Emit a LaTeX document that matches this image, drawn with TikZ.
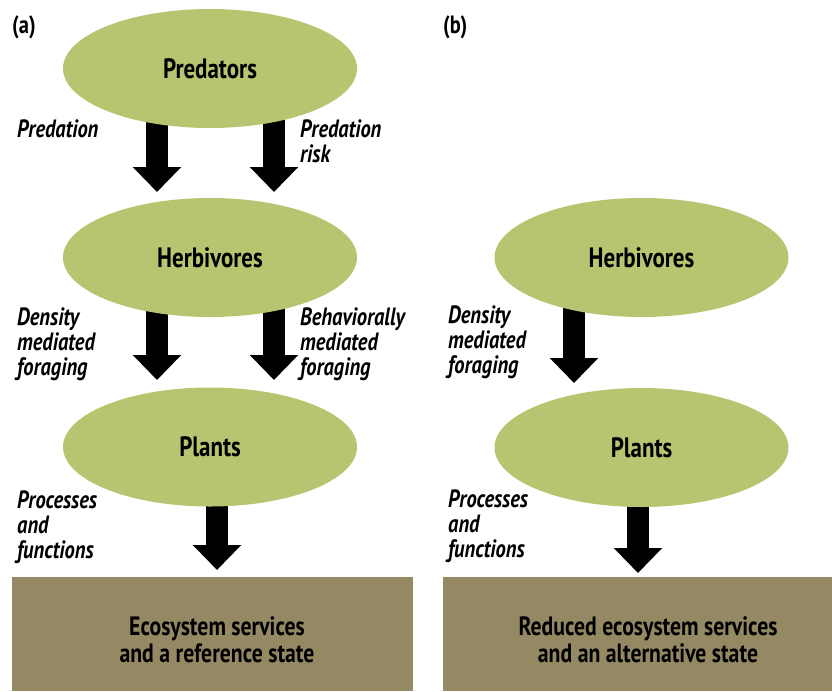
\documentclass[tikz,border=0pt]{standalone}
\usepackage{fontspec}
\setmainfont{PT Sans}[FakeStretch=0.82]
\usetikzlibrary{arrows.meta,shapes.geometric,backgrounds}
\definecolor{eggreen}{RGB}{182,198,112}
\definecolor{egbrown}{RGB}{149,137,100}
\tikzset{
  oval/.style={ellipse, fill=eggreen, inner sep=0pt, minimum width=294pt, minimum height=119pt,
    font=\fontsize{28}{32}\selectfont\bfseries},
  statebox/.style={rectangle, fill=egbrown, inner sep=0pt, anchor=north west},
  boxtext/.style={align=center, inner sep=0pt, anchor=base, font=\fontsize{26.5}{27}\selectfont\bfseries},
  effect/.style={align=left, inner sep=0pt, anchor=base west, font=\fontsize{25}{25}\selectfont\bfseries\itshape},
  panel/.style={inner sep=0pt, anchor=base west, font=\fontsize{25}{28}\selectfont\bfseries},
  bigarrow/.style={line width=22pt, -{Triangle[width=47pt,length=25pt]}}
}
\begin{document}
\begin{tikzpicture}[x=1pt,y=-1pt]
\useasboundingbox (0,0) rectangle (832,691);
% panel labels
\node[panel] (pa) at (12,33) {(a)};
\node[panel] (pb) at (443,33) {(b)};
% ellipses
\node[oval] (pred) at (210,68.5) {Predators};
\node[oval] (herbA) at (210,257.5) {Herbivores};
\node[oval] (plantA) at (210,447) {Plants};
\node[oval] (herbB) at (641.5,257.5) {Herbivores};
\node[oval] (plantB) at (641.5,447.5) {Plants};
% boxes
\node[statebox, minimum width=401pt, minimum height=114pt] (boxA) at (12,577) {};
\node[statebox, minimum width=389pt, minimum height=114pt] (boxB) at (443,577) {};
\node[boxtext] (boxAtext) at (217,662) {Ecosystem services\\and a reference state};
\node[boxtext] (boxBtext) at (648,662) {Reduced ecosystem services\\and an alternative state};
% arrow end points
\coordinate (a1e) at (157,192);
\coordinate (a2e) at (274,192);
\coordinate (a3e) at (157,380);
\coordinate (a4e) at (274,380);
\coordinate (a5e) at (217,570);
\coordinate (b1e) at (574,383);
\coordinate (b2e) at (638,573);
\begin{pgfonlayer}{background}
\draw[bigarrow] (pred.center -| a1e) -- (a1e);
\draw[bigarrow] (pred.center -| a2e) -- (a2e);
\draw[bigarrow] (herbA.center -| a3e) -- (a3e);
\draw[bigarrow] (herbA.center -| a4e) -- (a4e);
\draw[bigarrow] (plantA.center -| a5e) -- (a5e);
\draw[bigarrow] (herbB.center -| b1e) -- (b1e);
\draw[bigarrow] (plantB.center -| b2e) -- (b2e);
\end{pgfonlayer}
% effect labels (anchored at the baseline of the last line)
\node[effect] (l1) at (17,137) {Predation};
\node[effect] (l2) at (300,162) {Predation\\risk};
\node[effect] (l3) at (17,375) {Density\\mediated\\foraging};
\node[effect] (l4) at (300,375) {Behaviorally\\mediated\\foraging};
\node[effect] (l5) at (17,558) {Processes\\and\\functions};
\node[effect] (l6) at (448,373) {Density\\mediated\\foraging};
\node[effect] (l7) at (448,557) {Processes\\and\\functions};
\end{tikzpicture}
\end{document}
